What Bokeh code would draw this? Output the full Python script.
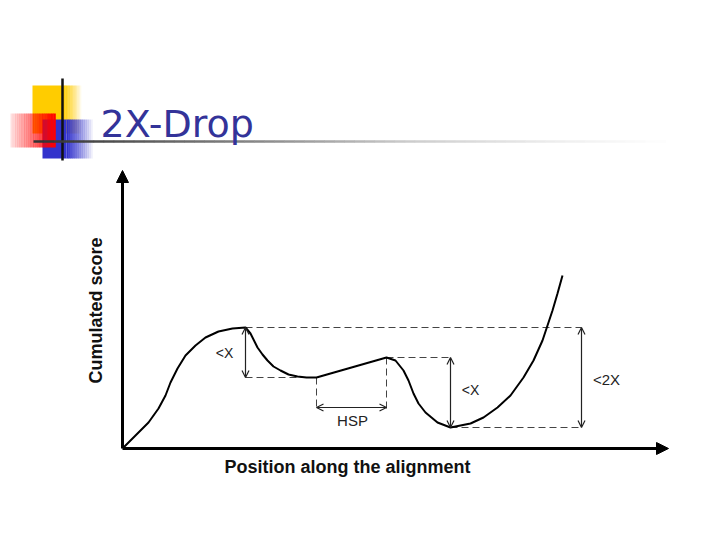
import numpy as np
from bokeh.plotting import figure
from bokeh.models import Range1d, Arrow, NormalHead, OpenHead, ColumnDataSource
from bokeh.core.properties import value
from bokeh.embed import file_html
from bokeh.resources import INLINE

# ---- data: cumulated score along the alignment ----
position = [1, 13, 26, 36, 43, 48, 55, 63, 73, 83, 96, 110, 123,
            128, 135, 140, 145, 151, 158, 166, 175, 184, 194,
            264, 273, 281, 286, 291, 296, 303, 315, 328,
            348, 361, 375, 388, 401, 411, 420, 425, 430, 435, 440]
score = [1, 13, 26, 40, 53, 66, 80, 93, 103, 111, 117, 120, 121,
         115, 101, 94, 88, 82, 78, 74, 72, 71, 71,
         91, 88, 78, 68, 55, 45, 36, 26, 21,
         25, 31, 41, 53, 71, 88, 108, 123, 138, 155, 173]

peak = (123, 121)        # first maximum
hsp_start = (194, 71)    # start of HSP
hsp_end = (264, 91)      # end of HSP
trough = (328, 21)       # deepest drop
bracket_x = 459          # position of the <2X bracket
hsp_arrow_y = 41
hsp_tick_bottom = 38
x_axis_end = 546
y_axis_end = 278

drop_labels = ["<X", "<X", "HSP", "<2X"]
drop_label_x = [102, 348, 230, 484]
drop_label_y = [96, 59, 28, 69]
drop_label_size = ["14px", "14px", "15px", "15px"]

title_text = "2X-Drop"
x_label = "Position along the alignment"
y_label = "Cumulated score"

# ---- figure ----
p = figure(width=704, height=524, output_backend="svg", toolbar_location=None,
           x_range=Range1d(-122, 582), y_range=Range1d(-76, 448),
           min_border=0, outline_line_color=None)
p.axis.visible = False
p.grid.visible = False
p.background_fill_color = "white"
p.border_fill_color = "white"

# ---- slide decoration ----
def grad_quads(x0, x1, top, bottom, color, a0, a1, n=14):
    xs = np.linspace(x0, x1, n + 1)
    alphas = np.linspace(a0, a1, n)
    p.quad(left=xs[:-1], right=xs[1:] + 0.3, top=top, bottom=bottom,
           fill_color=color, fill_alpha=alphas, line_color=None)

# yellow square
p.quad(left=-90, right=-60, top=363, bottom=315, fill_color="#FFCC00", line_color=None)
grad_quads(-60, -40, 363, 315, "#FFCC00", 1.0, 0.0)
# blue square
p.quad(left=-80, right=-56, top=329, bottom=290, fill_color="#3333CC", line_color=None)
grad_quads(-56, -28, 329, 290, "#3333CC", 1.0, 0.0)
# red rectangle
grad_quads(-112, -67, 335, 301, "#FF0000", 0.12, 1.0, n=20)
# black cross lines
p.segment(x0=[-60], y0=[370], x1=[-60], y1=[288], line_color="#111111", line_width=2.5)
hx = np.linspace(-89, 543, 64)
gx = [-89, 128, 278, 428, 543]
gv = [0x33, 0x88, 0xCC, 0xEE, 0xFF]
grays = ["#%02x%02x%02x" % ((int(v),) * 3) for v in np.interp(hx[:-1], gx, gv)]
p.segment(x0=hx[:-1], y0=307, x1=hx[1:] + 0.5, y1=307, line_color=grays, line_width=2.5)

p.text(x=[-22], y=[325], text=[title_text], text_font=value("DejaVu Sans"),
       text_font_size="38px", text_color="#333399", text_baseline="alphabetic",
       text_align="left")

# ---- axes with arrow heads ----
p.add_layout(Arrow(x_start=0, y_start=0, x_end=x_axis_end, y_end=0, line_width=3,
                   line_color="black",
                   end=NormalHead(size=12, fill_color="black", line_color="black")))
p.add_layout(Arrow(x_start=0, y_start=0, x_end=0, y_end=y_axis_end, line_width=3,
                   line_color="black",
                   end=NormalHead(size=12, fill_color="black", line_color="black")))

p.text(x=[x_axis_end / 2 - 48], y=[-18], text=[x_label], text_font=value("Liberation Sans"),
       text_font_style="bold", text_font_size="18px", text_color="#111111",
       text_align="center", text_baseline="middle")
p.text(x=[-27], y=[138], text=[y_label], text_font=value("Liberation Sans"),
       text_font_style="bold", text_font_size="18px", text_color="#111111",
       text_align="center", text_baseline="middle", angle=np.pi / 2)

# ---- dashed guide lines ----
seg_x0 = [peak[0], peak[0], hsp_start[0], hsp_end[0], hsp_end[0], trough[0]]
seg_y0 = [peak[1], hsp_start[1], hsp_start[1], hsp_end[1], hsp_end[1], trough[1]]
seg_x1 = [bracket_x, hsp_start[0], hsp_start[0], hsp_end[0], trough[0], bracket_x]
seg_y1 = [peak[1], hsp_start[1], hsp_tick_bottom, hsp_tick_bottom, hsp_end[1], trough[1]]
p.segment(x0=seg_x0, y0=seg_y0, x1=seg_x1, y1=seg_y1, line_color="#444444",
          line_width=1, line_dash="7 4")

# ---- double-headed measurement arrows ----
arr = ColumnDataSource(dict(
    x0=[peak[0], trough[0], bracket_x, hsp_start[0]],
    y0=[peak[1], hsp_end[1], peak[1], hsp_arrow_y],
    x1=[peak[0], trough[0], bracket_x, hsp_end[0]],
    y1=[hsp_start[1], trough[1], trough[1], hsp_arrow_y],
))
p.add_layout(Arrow(source=arr, x_start="x0", y_start="y0", x_end="x1", y_end="y1",
                   line_width=1.2, line_color="#222222",
                   start=OpenHead(size=7, line_width=1.2, line_color="#222222"),
                   end=OpenHead(size=7, line_width=1.2, line_color="#222222")))

# ---- the curve ----
p.line(position, score, line_color="black", line_width=2)

# ---- labels ----
p.text(x=drop_label_x, y=drop_label_y, text=drop_labels, text_font=value("Liberation Sans"),
       text_font_size=drop_label_size, text_color="#222222", text_align="center",
       text_baseline="middle")

open("out.html", "w").write(file_html(p, INLINE))
